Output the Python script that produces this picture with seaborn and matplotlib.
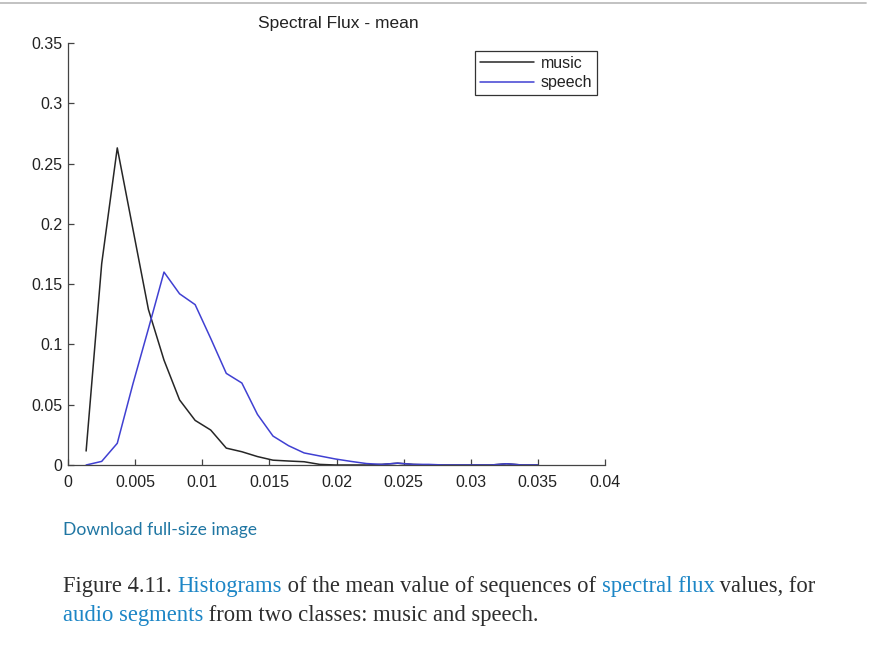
import numpy as np
import pandas as pd
import matplotlib
matplotlib.use("Agg")
import matplotlib.pyplot as plt
from matplotlib.lines import Line2D
from matplotlib.font_manager import FontProperties
import seaborn as sns

# ---------------- data ----------------
title = "Spectral Flux - mean"
series_names = ["music", "speech"]
flux_mean = [0.00135, 0.00251, 0.00367, 0.00483, 0.00599, 0.00715, 0.00831, 0.00947,
             0.01063, 0.01179, 0.01295, 0.01411, 0.01527, 0.01643, 0.01759, 0.01875,
             0.01991, 0.02107, 0.02223, 0.02339, 0.02455, 0.02571, 0.02687, 0.02803,
             0.02919, 0.03035, 0.03151, 0.03267, 0.03383, 0.03499]
music = [0.0116, 0.167, 0.263, 0.196, 0.129, 0.087, 0.054, 0.037,
         0.029, 0.014, 0.011, 0.007, 0.004, 0.0033, 0.0027, 0.0005,
         0.0, 0.0, 0.0, 0.0005, 0.0015, 0.0005, 0.0, 0.0,
         0.0, 0.0, 0.0, 0.001, 0.0, 0.0]
speech = [0.0, 0.003, 0.018, 0.067, 0.113, 0.160, 0.142, 0.133,
          0.105, 0.076, 0.068, 0.042, 0.024, 0.016, 0.010, 0.0075,
          0.005, 0.003, 0.0012, 0.0005, 0.0015, 0.0005, 0.0005, 0.0,
          0.0, 0.0, 0.0, 0.001, 0.0, 0.0]
x_ticks = [0, 0.005, 0.01, 0.015, 0.02, 0.025, 0.03, 0.035, 0.04]
x_tick_labels = ["0", "0.005", "0.01", "0.015", "0.02", "0.025", "0.03", "0.035", "0.04"]
y_ticks = [0, 0.05, 0.1, 0.15, 0.2, 0.25, 0.3, 0.35]
y_tick_labels = ["0", "0.05", "0.1", "0.15", "0.2", "0.25", "0.3", "0.35"]
download_text = "Download full-size image"
caption_line1 = [("Figure 4.11. ", False), ("Histograms", True),
                 (" of the mean value of sequences of ", False), ("spectral flux", True),
                 (" values, for", False)]
caption_line2 = [("audio segments", True), (" from two classes: music and speech.", False)]

# ---------------- style ----------------
sns.set_theme(style="white")
plt.rcParams["font.family"] = ["Liberation Sans", "DejaVu Sans"]

W, H = 882, 649
fig = plt.figure(figsize=(W / 100, H / 100), dpi=100)
ax = fig.add_axes([68 / W, 1 - 465 / H, 537 / W, 422 / H])

n = len(flux_mean)
df = pd.DataFrame({
    "x": flux_mean * 2,
    "y": music + speech,
    "cls": [series_names[0]] * n + [series_names[1]] * n,
})
palette = {"music": "#262626", "speech": "#4040d2"}
sns.lineplot(data=df, x="x", y="y", hue="cls", palette=palette, linewidth=1.1,
             ax=ax, legend=True)

ax.set_xlim(0, 0.04)
ax.set_ylim(0, 0.35)
ax.set_xticks(x_ticks)
ax.set_xticklabels(x_tick_labels)
ax.set_yticks(y_ticks)
ax.set_yticklabels(y_tick_labels)
ax.set_xlabel("")
ax.set_ylabel("")
for s in ["top", "right"]:
    ax.spines[s].set_visible(False)
for s in ["left", "bottom"]:
    ax.spines[s].set_color("#444444")
    ax.spines[s].set_linewidth(0.9)
ax.tick_params(axis="both", direction="in", length=4, width=0.9, color="#444444",
               labelsize=11.5, labelcolor="#222222", bottom=True, left=True)
ax.tick_params(axis="x", pad=7)
ax.tick_params(axis="y", pad=3.8)

handles, labels = ax.get_legend_handles_labels()
leg = ax.legend(handles, labels, loc="upper right", bbox_to_anchor=(0.9857, 0.9818),
                borderaxespad=0, borderpad=0.31, handlelength=3.4, handletextpad=0.42,
                labelspacing=0.3, fontsize=11.5, frameon=True, fancybox=False,
                framealpha=1, edgecolor="#333333")
leg.get_frame().set_linewidth(0.9)
for t in leg.get_texts():
    t.set_color("#222222")

fig.text(338 / W, 1 - 28 / H, title, ha="center", va="baseline", fontsize=12.5,
         color="#222222")

# page rule at top
fig.add_artist(Line2D([0, 866 / W], [1 - 3 / H, 1 - 3 / H], color="#bdbdbd", lw=1.3))

# download link
fig.text(63 / W, 1 - 535.5 / H, download_text, ha="left", va="baseline", fontsize=12.6,
         color="#1f76a3", family=["Lato", "DejaVu Sans"])

# caption with coloured runs
renderer = fig.canvas.get_renderer()
link_c = "#1d86c6"
text_c = "#2e2e2e"
cap_family = ["Liberation Serif", "DejaVu Serif"]
cap_size = 16.3
prop = FontProperties(family=cap_family, size=cap_size)


def width_px(s):
    w1, _, _ = renderer.get_text_width_height_descent("|" + s + "|", prop, ismath=False)
    w0, _, _ = renderer.get_text_width_height_descent("||", prop, ismath=False)
    return w1 - w0


def draw_runs(x_px, y_px, runs):
    for s, is_link in runs:
        fig.text(x_px / W, 1 - y_px / H, s, ha="left", va="baseline",
                 fontproperties=prop, color=link_c if is_link else text_c)
        x_px += width_px(s)


draw_runs(63, 592, caption_line1)
draw_runs(63, 621, caption_line2)

fig.savefig("out.png", dpi=100, facecolor="white")
